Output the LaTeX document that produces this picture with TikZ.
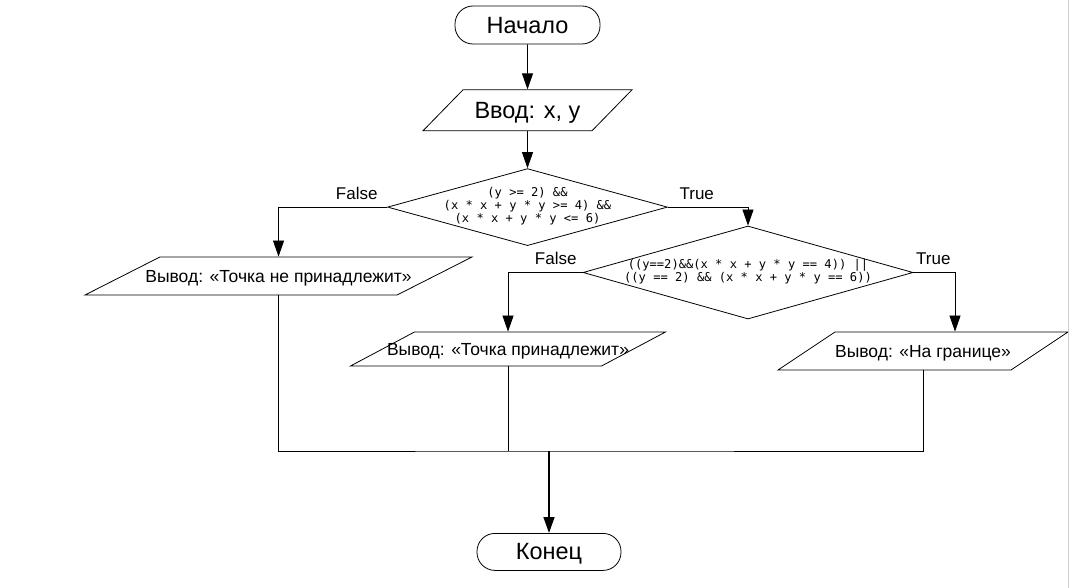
\documentclass[tikz,border=0pt]{standalone}
\usepackage{fontspec}
\setmainfont{Liberation Sans}
\newfontfamily\codefont{DejaVu Sans Mono}
\usetikzlibrary{arrows.meta, shapes, positioning}

\begin{document}
\begin{tikzpicture}[x=1pt,y=-1pt,line width=0.8pt,node distance=0pt]

\tikzstyle{term}=[rectangle,draw,rounded corners=18pt,minimum width=145pt,minimum height=38pt,text depth=0pt,font=\fontsize{23.5}{28}\selectfont];
\tikzstyle{io}=[trapezium,draw,trapezium stretches body=true,inner ysep=0pt,inner xsep=-40pt,font=\fontsize{17.5}{20}\selectfont];
\tikzstyle{cond}=[diamond,draw,inner sep=0pt,font=\codefont\fontsize{12.1}{12.4}\selectfont];
\tikzstyle{lbl}=[inner sep=0pt,font=\fontsize{17}{20}\selectfont];
\tikzstyle{arr}=[-{Triangle[length=16pt,width=11pt]}];

\useasboundingbox (0,0) rectangle (1079,588);

\node(START) [term] at (527.5,25) {Начало};
\node(IN) [io, below=45pt of START, trapezium left angle=45.7, trapezium right angle=134.3, minimum width=209pt, text height=29pt, text depth=12pt, font=\fontsize{23.5}{28}\selectfont] {Ввод: x, y};
\node(C1) [cond, below=37pt of IN, minimum width=280pt, minimum height=77pt] {\makebox[0pt]{\begin{tabular}{c}(y >= 2) \&\&\\(x * x + y * y >= 4) \&\&\\(x * x + y * y <= 6)\end{tabular}}};
\node(C2) [cond, minimum width=330pt, minimum height=93pt] at (748,272.5) {\makebox[0pt]{\begin{tabular}{c}((y==2)\&\&(x * x + y * y == 4)) ||\\((y == 2) \&\& (x * x + y * y == 6))\end{tabular}}};
\node(OUT1) [io, trapezium left angle=26.9, trapezium right angle=153.1, minimum width=387pt, text height=26pt, text depth=12pt] at (278.5,276) {Вывод: «Точка не принадлежит»};
\node(OUT2) [io, trapezium left angle=28, trapezium right angle=152, minimum width=315pt, text height=23pt, text depth=11pt] at (508,349) {Вывод: «Точка принадлежит»};
\node(OUT3) [io, trapezium left angle=33.7, trapezium right angle=146.3, minimum width=290pt, text height=25pt, text depth=13pt] at (923,351) {Вывод: «На границе»};
\coordinate (JOIN) at (549,451);
\node(END) [term, below=82pt of JOIN, minimum width=144pt, minimum height=37pt] {Конец};

\draw[arr] (START) -- (IN);
\draw[arr] (IN) -- (C1);
\draw[arr] (C1.west) -| (OUT1.north) node[lbl, pos=.14, above=7pt] {False};
\draw[arr] (C1.east) -| (C2.north) node[lbl, pos=.18, above=7pt] {True};
\draw[arr] (C2.west) -| (OUT2.north) node[lbl, pos=.18, above=7pt] {False};
\draw[arr] (C2.east) -| ([xshift=32pt]OUT3.north) node[lbl, pos=.24, above=7pt] {True};
\draw (OUT1.south) |- (JOIN) -| (OUT3.south);
\draw (OUT2.south) -- (OUT2.south |- JOIN);
\draw[arr, line width=1.6pt] (JOIN) -- (END);
\draw[black!20] (1068.5,0) -- (1068.5,588);

\end{tikzpicture}
\end{document}
